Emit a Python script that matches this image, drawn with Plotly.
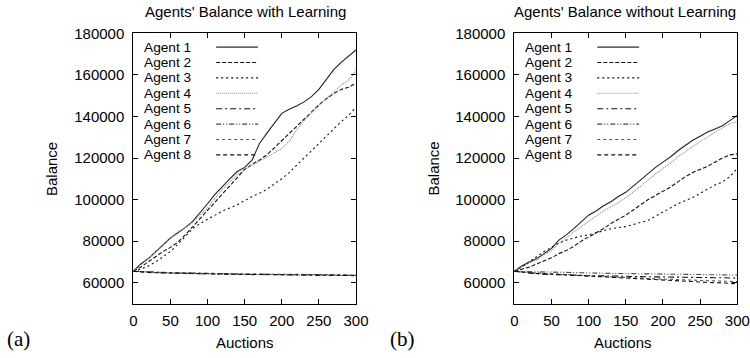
import plotly.graph_objects as go

# ---------------- data ----------------
auctions = [0, 10, 20, 30, 40, 50, 60, 70, 80, 90, 100, 110, 120, 130, 140, 150,
            160, 170, 180, 190, 200, 210, 220, 230, 240, 250, 260, 270, 280, 290, 300]

agent_names = ["Agent 1", "Agent 2", "Agent 3", "Agent 4",
               "Agent 5", "Agent 6", "Agent 7", "Agent 8"]

# (a) with learning
learn_a1 = [65500, 69000, 71500, 75000, 78500, 81500, 84000, 86500, 89500, 93500, 98000,
            102500, 106500, 110000, 113500, 115500, 119000, 127000, 132000, 137000, 141500,
            143500, 145000, 147000, 149500, 153000, 158000, 162500, 166000, 169000, 172000]
learn_a2 = [65500, 67500, 70000, 72500, 75000, 77000, 79500, 83000, 87000, 91000, 94500,
            98500, 102500, 106500, 111000, 114500, 117000, 119000, 121500, 125000, 128500,
            132000, 135500, 139000, 142000, 145500, 148500, 151000, 153000, 154000, 156000]
learn_a3 = [65500, 66500, 68000, 70000, 72500, 75000, 78500, 82500, 86000, 88500, 90500,
            92500, 94500, 96000, 97500, 99500, 101500, 103000, 105000, 107500, 110000,
            113000, 116500, 120000, 123500, 127000, 130500, 134000, 137500, 140500, 144500]
learn_a4 = [65500, 68500, 71500, 75000, 78000, 81500, 84500, 86500, 89000, 92500, 96000,
            100500, 105000, 108500, 112000, 114500, 116500, 118500, 120500, 122500, 124500,
            128000, 133500, 138000, 142000, 145500, 148500, 152000, 155000, 157500, 162000]
learn_a5 = [65500, 65300, 65100, 65000, 64900, 64800, 64700, 64600, 64500, 64500, 64400,
            64300, 64300, 64200, 64200, 64100, 64100, 64000, 64000, 64000, 63900,
            63900, 63800, 63800, 63800, 63700, 63700, 63700, 63600, 63600, 63600]
learn_a6 = [65500, 65200, 65000, 64900, 64800, 64600, 64500, 64400, 64300, 64300, 64200,
            64200, 64100, 64100, 64000, 64000, 63900, 63900, 63900, 63800, 63800,
            63800, 63700, 63700, 63700, 63600, 63600, 63600, 63500, 63500, 63500]
learn_a7 = [65500, 65300, 65200, 65000, 64900, 64800, 64800, 64700, 64600, 64500, 64500,
            64400, 64400, 64300, 64300, 64200, 64200, 64200, 64100, 64100, 64100,
            64000, 64000, 64000, 63900, 63900, 63900, 63800, 63800, 63800, 63700]
learn_a8 = [65500, 65100, 64900, 64800, 64700, 64600, 64500, 64400, 64400, 64300, 64300,
            64200, 64200, 64100, 64100, 64000, 64000, 64000, 63900, 63900, 63900,
            63800, 63800, 63700, 63700, 63700, 63600, 63600, 63600, 63500, 63400]

# (b) without learning
nolearn_a1 = [65500, 68000, 70000, 71500, 74000, 76500, 80500, 83000, 86000, 89500, 92500,
              94500, 97000, 99000, 101500, 103500, 106500, 109500, 112500, 115500, 118000,
              120500, 123500, 126000, 128500, 130500, 132500, 134000, 135500, 138000, 140500]
nolearn_a2 = [65500, 66500, 67500, 69000, 70500, 72000, 74000, 75500, 77500, 80000, 82000,
              84000, 86000, 88500, 90500, 92500, 95000, 97500, 100000, 102000, 104000,
              106000, 108500, 111000, 113000, 114500, 116000, 118000, 120000, 121500, 122000]
nolearn_a3 = [65500, 67500, 70000, 72500, 75000, 77000, 79000, 80500, 81500, 82500, 83000,
              84000, 85000, 86000, 86500, 87000, 88000, 89000, 90000, 92000, 94000,
              96000, 98000, 99500, 101000, 103000, 105000, 107000, 108500, 111000, 115000]
nolearn_a4 = [65500, 67500, 69500, 71000, 73500, 75500, 79000, 81500, 84500, 87000, 89500,
              92000, 94500, 96500, 98500, 101000, 103500, 106500, 109500, 112300, 115000,
              117500, 120500, 123000, 125500, 128000, 130000, 132500, 134500, 136500, 137500]
nolearn_a5 = [65500, 65000, 64600, 64300, 64100, 63900, 63800, 63700, 63600, 63500, 63400,
              63300, 63200, 63200, 63100, 63000, 63000, 62900, 62900, 62800, 62800,
              62700, 62700, 62600, 62600, 62500, 62500, 62400, 62400, 62300, 62200]
nolearn_a6 = [65500, 65400, 65300, 65200, 65100, 65000, 64900, 64900, 64800, 64700, 64600,
              64600, 64500, 64500, 64400, 64400, 64300, 64300, 64200, 64200, 64100,
              64100, 64100, 64000, 64000, 63900, 63900, 63800, 63800, 63700, 63700]
nolearn_a7 = [65500, 65200, 64900, 64700, 64500, 64300, 64100, 63900, 63700, 63500, 63300,
              63200, 63000, 62800, 62600, 62500, 62300, 62200, 62000, 61900, 61800,
              61600, 61500, 61400, 61300, 61200, 61000, 60900, 60800, 60700, 60500]
nolearn_a8 = [65500, 65100, 64800, 64500, 64300, 64100, 63900, 63700, 63500, 63300, 63100,
              62900, 62700, 62500, 62300, 62100, 61900, 61800, 61600, 61400, 61200,
              61000, 60800, 60700, 60500, 60300, 60200, 60000, 59900, 59700, 59500]

x_ticks = [0, 50, 100, 150, 200, 250, 300]
y_ticks = [60000, 80000, 100000, 120000, 140000, 160000, 180000]

titles = ["Agents' Balance with Learning", "Agents' Balance without Learning"]
panel_labels = ["(a)", "(b)"]

# ---------------- styles ----------------
styles = [
    dict(color="#222222", dash="solid"),
    dict(color="#111111", dash="4px,2px"),
    dict(color="#111111", dash="2px,3px"),
    dict(color="#8a8a8a", dash="1px,1px"),
    dict(color="#111111", dash="6px,3px,2px,3px"),
    dict(color="#444444", dash="5px,2px,1px,2px,1px,2px"),
    dict(color="#555555", dash="3px,3px"),
    dict(color="#111111", dash="4px,3px"),
]

W, H = 750, 358
font = "Liberation Sans, Arial, sans-serif"
FS = 15
KEY_FS = 13.7

panels = [
    dict(series=[learn_a1, learn_a2, learn_a3, learn_a4, learn_a5, learn_a6, learn_a7, learn_a8],
         xdom=[133.3 / W, 356.0 / W], xa="x", ya="y"),
    dict(series=[nolearn_a1, nolearn_a2, nolearn_a3, nolearn_a4, nolearn_a5, nolearn_a6,
                 nolearn_a7, nolearn_a8],
         xdom=[514.3 / W, 737.3 / W], xa="x2", ya="y2"),
]
ydom = [(H - 303.5) / H, (H - 33.3) / H]

fig = go.Figure()
for p in panels:
    for name, vals, st in zip(agent_names, p["series"], styles):
        fig.add_trace(go.Scatter(
            x=auctions, y=vals, mode="lines", name=name, showlegend=False,
            line=dict(color=st["color"], dash=st["dash"], width=1.1),
            xaxis=p["xa"], yaxis=p["ya"]))

axis_common = dict(
    showgrid=False, zeroline=False, showline=True, linecolor="black", linewidth=1,
    mirror="ticks", ticks="inside", ticklen=5, tickcolor="black", tickwidth=1,
    automargin=False,
    tickfont=dict(family=font, size=FS, color="black"),
)
fig.update_layout(
    width=W, height=H, margin=dict(l=0, r=0, t=0, b=0, pad=0, autoexpand=False),
    paper_bgcolor="white", plot_bgcolor="white", showlegend=False,
    xaxis=dict(domain=panels[0]["xdom"], range=[0, 300], tickvals=x_ticks, anchor="y",
               ticklabelstandoff=3, **axis_common),
    yaxis=dict(domain=ydom, range=[50000, 180000], tickvals=y_ticks, tickformat="d", anchor="x",
               ticklabelstandoff=5, **axis_common),
    xaxis2=dict(domain=panels[1]["xdom"], range=[0, 300], tickvals=x_ticks, anchor="y2",
                ticklabelstandoff=3, **axis_common),
    yaxis2=dict(domain=ydom, range=[50000, 180000], tickvals=y_ticks, tickformat="d", anchor="x2",
                ticklabelstandoff=5, **axis_common),
)

# titles, axis titles, panel labels
title_cx = [245.0, 625.0]
ytitle_cx = [51.0, 432.5]
xtitle_cx = [245.0, 623.3]
plabel_cx = [18.0, 402.0]
for i in range(2):
    fig.add_annotation(text=titles[i], x=title_cx[i] / W, y=(H - 11.5) / H, xref="paper", yref="paper",
                       xanchor="center", yanchor="middle",
                       showarrow=False, font=dict(family=font, size=FS, color="black"))
    fig.add_annotation(text="Balance", x=ytitle_cx[i] / W, y=(H - 169.0) / H, xref="paper", yref="paper",
                       xanchor="center", yanchor="middle",
                       showarrow=False, textangle=-90, font=dict(family=font, size=FS, color="black"))
    fig.add_annotation(text="Auctions", x=xtitle_cx[i] / W, y=(H - 342.0) / H, xref="paper", yref="paper",
                       xanchor="center", yanchor="middle",
                       showarrow=False, font=dict(family=font, size=FS, color="black"))
    fig.add_annotation(text=panel_labels[i], x=plabel_cx[i] / W, y=(H - 339.0) / H, xref="paper", yref="paper",
                       xanchor="center", yanchor="middle",
                       showarrow=False, font=dict(family="Liberation Serif, Times New Roman, serif", size=21, color="black"))

# gnuplot-style key (text left, sample right) inside each panel
key_row0 = 0.949
key_step = 15.4 / 270.2
for p in panels:
    xd = p["xa"] + " domain"
    yd = p["ya"] + " domain"
    for k, (name, st) in enumerate(zip(agent_names, styles)):
        yy = key_row0 - k * key_step
        fig.add_annotation(text=name, x=0.042, y=yy, xref=xd, yref=yd, xanchor="left", yanchor="middle",
                           borderpad=0, showarrow=False, font=dict(family=font, size=KEY_FS, color="black"))
        fig.add_shape(type="line", x0=0.372, x1=0.56, y0=yy, y1=yy, xref=xd, yref=yd,
                      line=dict(color="#666666" if k == 0 else st["color"], dash=st["dash"],
                                width=1.8 if k == 0 else 1.1))

fig.write_html("out.html")
